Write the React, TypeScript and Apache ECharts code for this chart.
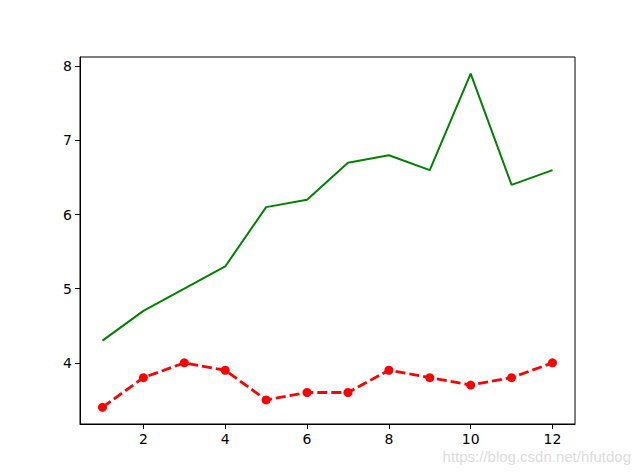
import React, { useEffect, useRef } from "react";
import * as echarts from "echarts";

const xValues = [1, 2, 3, 4, 5, 6, 7, 8, 9, 10, 11, 12];
const greenValues = [4.3, 4.7, 5.0, 5.3, 6.1, 6.2, 6.7, 6.8, 6.6, 7.9, 6.4, 6.6];
const redValues = [3.4, 3.8, 4.0, 3.9, 3.5, 3.6, 3.6, 3.9, 3.8, 3.7, 3.8, 4.0];
const xTicks = [2, 4, 6, 8, 10, 12];
const yTicks = [4, 5, 6, 7, 8];

export default function App() {
  const ref = useRef<HTMLDivElement>(null);
  useEffect(() => {
    const chart = echarts.init(ref.current!, null, { renderer: "svg" });
    const font = "DejaVu Sans";
    chart.setOption({
      animation: false,
      backgroundColor: "#ffffff",
      grid: {
        left: 80,
        top: 57,
        right: 65,
        bottom: 52,
        show: true,
        borderColor: "#000000",
        borderWidth: 1,
        backgroundColor: "transparent",
      },
      xAxis: {
        type: "value",
        min: 0.45,
        max: 12.55,
        axisLine: { show: true, onZero: false, lineStyle: { color: "#000", width: 1 } },
        axisTick: { show: true, length: 5, customValues: xTicks, lineStyle: { color: "#000" } },
        axisLabel: { customValues: xTicks, color: "#000", fontSize: 14, fontFamily: font, margin: 8 },
        splitLine: { show: false },
      },
      yAxis: {
        type: "value",
        min: 3.175,
        max: 8.125,
        axisLine: { show: true, onZero: false, lineStyle: { color: "#000", width: 1 } },
        axisTick: { show: true, length: 5, customValues: yTicks, lineStyle: { color: "#000" } },
        axisLabel: { customValues: yTicks, color: "#000", fontSize: 14, fontFamily: font, margin: 8 },
        splitLine: { show: false },
      },
      series: [
        {
          type: "line",
          data: xValues.map((x, i) => [x, greenValues[i]]),
          showSymbol: false,
          symbol: "none",
          lineStyle: { color: "#008000", width: 2 },
          itemStyle: { color: "#008000" },
        },
        {
          type: "line",
          data: xValues.map((x, i) => [x, redValues[i]]),
          symbol: "circle",
          symbolSize: 9,
          showSymbol: true,
          lineStyle: { color: "#ff0000", width: 2.8, type: [10, 4] },
          itemStyle: { color: "#ff0000" },
        },
      ],
      graphic: [
        {
          type: "text",
          right: 9,
          top: 449,
          style: {
            text: "https://blog.csdn.net/hfutdog",
            fill: "#dcdcdc",
            fontSize: 15,
            fontFamily: "Liberation Sans",
          },
        },
      ],
    });
    return () => chart.dispose();
  }, []);
  return (
    <div
      ref={ref}
      style={{ position: "fixed", left: 0, top: 0, width: 640, height: 476 }}
    />
  );
}
